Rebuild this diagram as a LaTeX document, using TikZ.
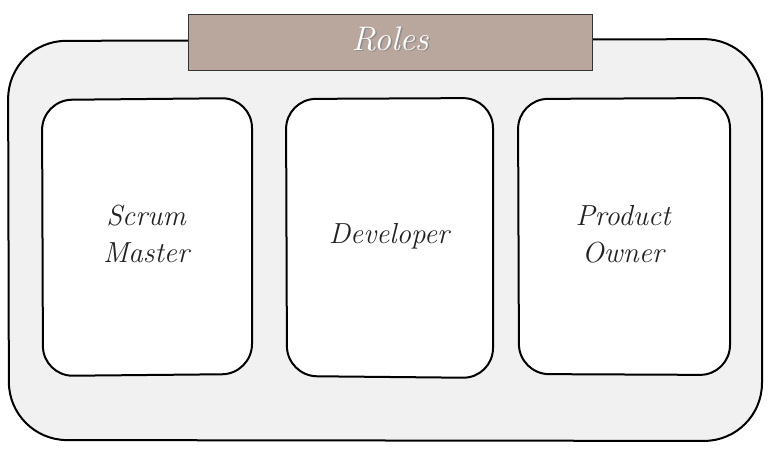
\documentclass[tikz,border=0pt]{standalone}
\usepackage{fontspec}
\setmainfont{Latin Modern Roman}
\definecolor{panel}{HTML}{F1F1F1}
\definecolor{titlefill}{HTML}{B9A69D}
\definecolor{inkc}{HTML}{222222}
\tikzset{
  outerbox/.style={draw=black, line width=2pt, fill=panel, rounded corners=58pt},
  rolebox/.style={draw=black, line width=2pt, fill=white, rounded corners=30pt},
  titlebox/.style={draw=black!80, line width=1pt, fill=titlefill},
  roletext/.style={font=\itshape\fontsize{29}{37}\selectfont, text=inkc, align=center},
  titletext/.style={font=\itshape\fontsize{34}{40}\selectfont, text=white}
}
\begin{document}
\begin{tikzpicture}[x=1pt,y=-1pt]
\useasboundingbox (0,0) rectangle (772,457);
\path[outerbox] (8,41) -- (762,39) -- (762,441) -- (9,440) -- cycle;
\node[titlebox, minimum width=404pt, minimum height=56pt, anchor=north west, inner sep=0pt] (title) at (188,14) {};
\node[titletext, text=black!45] (rolesshadow) at (391.5,40.5) {Roles};
\node[titletext] (roles) at (390,39) {Roles};
\path[rolebox] (42,100) -- (252,98) -- (252,374) -- (43,376) -- cycle;
\path[rolebox] (286,99) -- (493,98) -- (493,378) -- (287,376) -- cycle;
\path[rolebox] (518,99) -- (730,98) -- (730,375) -- (519,374) -- cycle;
\node[roletext] (sm) at (146,234) {Scrum\\Master};
\node[roletext] (dev) at (389,236) {Developer};
\node[roletext] (po) at (623,234) {Product\\Owner};
\end{tikzpicture}
\end{document}
